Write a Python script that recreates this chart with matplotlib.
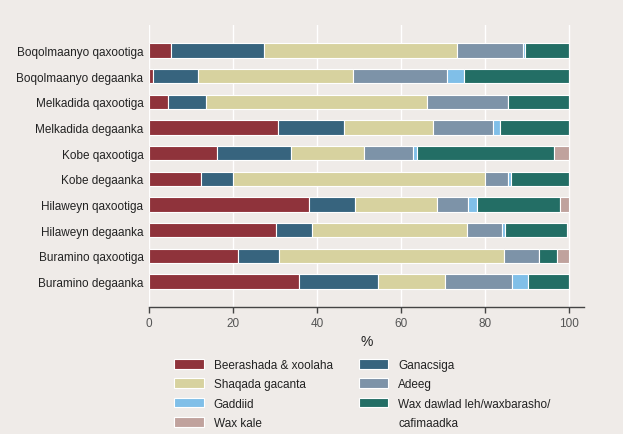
import matplotlib
matplotlib.use("Agg")
import matplotlib.pyplot as plt
from matplotlib.patches import Rectangle
import numpy as np

plt.rcParams['font.family'] = ['Liberation Sans', 'DejaVu Sans']

categories = ["Boqolmaanyo qaxootiga", "Boqolmaanyo degaanka", "Melkadida qaxootiga",
              "Melkadida degaanka", "Kobe qaxootiga", "Kobe degaanka",
              "Hilaweyn qaxootiga", "Hilaweyn degaanka", "Buramino qaxootiga",
              "Buramino degaanka"]

beerashada = [5.2, 1.0, 4.5, 30.7, 16.3, 12.5, 38.1, 30.2, 21.2, 35.8]
ganacsiga = [22.1, 10.6, 9.0, 15.7, 17.4, 7.6, 10.9, 8.7, 9.8, 18.7]
shaqada = [46.0, 37.1, 52.8, 21.3, 17.5, 59.9, 19.6, 36.8, 53.5, 15.9]
adeeg = [15.8, 22.3, 19.2, 14.2, 11.6, 5.6, 7.4, 8.3, 8.5, 16.0]
gaddiid = [0.5, 4.1, 0.0, 1.7, 1.1, 0.7, 2.1, 0.8, 0.0, 3.8]
wax_dawlad = [10.4, 24.9, 14.5, 16.4, 32.6, 13.7, 19.7, 14.8, 4.1, 9.8]
wax_kale = [0.0, 0.0, 0.0, 0.0, 3.5, 0.0, 2.2, 0.0, 2.9, 0.0]

series = [
    ("Beerashada & xoolaha", beerashada, "#8f333b"),
    ("Ganacsiga", ganacsiga, "#37647e"),
    ("Shaqada gacanta", shaqada, "#d7d29f"),
    ("Adeeg", adeeg, "#7d93a8"),
    ("Gaddiid", gaddiid, "#80bfe8"),
    ("Wax dawlad leh/waxbarasho/", wax_dawlad, "#236e65"),
    ("Wax kale", wax_kale, "#c0a29d"),
]

xticks = [0, 20, 40, 60, 80, 100]

bg = "#efebe8"
fig = plt.figure(figsize=(6.23, 4.35), dpi=100, facecolor=bg)
ax = fig.add_axes([149/623, 1-308/435, (584-149)/623, (308-26)/435])
ax.set_facecolor(bg)

y = np.arange(len(categories))
left = np.zeros(len(categories))
handles = {}
for label, vals, color in series:
    vals = np.array(vals)
    b = ax.barh(y, vals, left=left, height=0.56, color=color,
                edgecolor="white", linewidth=0.8, label=label, zorder=3)
    handles[label] = b
    left += vals

ax.set_xlim(0, 103.6)
ax.set_ylim(10, -1)
ax.set_yticks(y)
ax.set_yticklabels(categories, fontsize=8.5, color="#222222")
ax.set_xticks(xticks)
ax.set_xticklabels([str(t) for t in xticks], fontsize=8.5, color="#555555")
ax.tick_params(axis='y', length=0, pad=4)
ax.tick_params(axis='x', length=4, color="#444444", width=1, pad=3)
ax.grid(axis='x', color="white", linewidth=1, zorder=0)
ax.set_axisbelow(True)
for s in ["top", "right", "left"]:
    ax.spines[s].set_visible(False)
ax.spines["bottom"].set_color("#444444")
ax.spines["bottom"].set_linewidth(1)
ax.set_xlabel("%", fontsize=10, color="#222222", labelpad=4)

blank = Rectangle((0, 0), 1, 1, facecolor="none", edgecolor="none")
order = ["Beerashada & xoolaha", "Shaqada gacanta", "Gaddiid", "Wax kale",
         "Ganacsiga", "Adeeg", "Wax dawlad leh/waxbarasho/"]
hlist = [handles[o] for o in order] + [blank]
llist = order + ["cafimaadka"]
leg = fig.legend(hlist, llist, ncol=2,
                 loc="upper left", bbox_to_anchor=(174/623, 1-360/435),
                 frameon=False, fontsize=8.5, handlelength=2.5, handleheight=0.9,
                 handletextpad=0.85, columnspacing=2.2, labelspacing=0.62,
                 borderpad=0, borderaxespad=0)
for t in leg.get_texts():
    t.set_color("#222222")

fig.savefig("out.png", dpi=100, facecolor=bg)
